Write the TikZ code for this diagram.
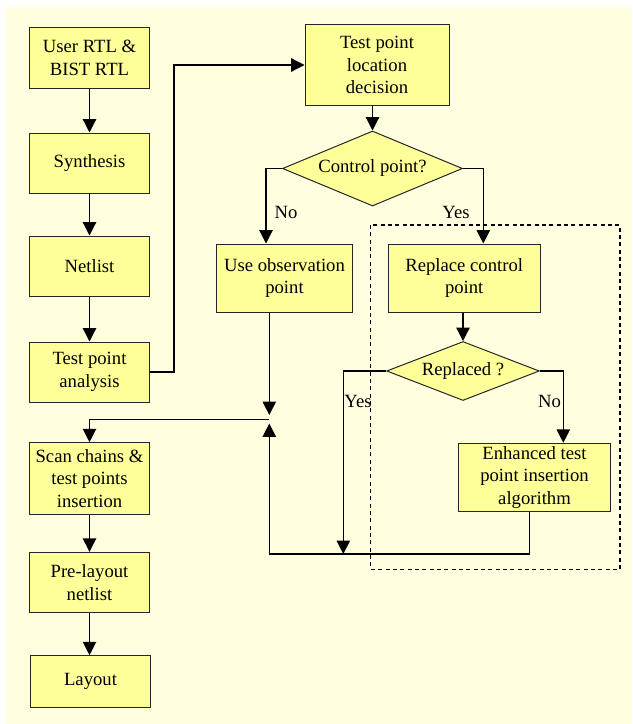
\documentclass[tikz,border=0pt]{standalone}
\usepackage{fontspec}
\setmainfont{Liberation Serif}
\newfontfamily\flowfont{Liberation Serif}
\usetikzlibrary{shapes.geometric,arrows.meta}
\definecolor{pagebg}{RGB}{255,255,224}
\definecolor{boxfill}{RGB}{255,255,153}
\tikzset{every picture/.style={line width=0.9pt}}
\tikzset{
  blk/.style={draw=black!85, line width=0.75pt, fill=boxfill, align=center, inner sep=0.75pt, font=\flowfont\fontsize{14}{17}\selectfont},
  dec/.style={blk, diamond, aspect=2.4, inner sep=0pt},
  arr/.style={-{Triangle[length=10pt,width=10pt]}},
  lbl/.style={inner sep=0.75pt, font=\flowfont\fontsize{14}{17}\selectfont}
}

\begin{document}
\begin{tikzpicture}[x=0.75pt,y=0.75pt,yscale=-1]
    \useasboundingbox (0,0) rectangle (632,724);
    \fill[pagebg] (6,7) rectangle (632,724);
    \draw[dash pattern=on 3pt off 2.5pt] (370.7,225) rectangle (620,569.3);

    \node[blk, minimum width=90pt, minimum height=45pt] (rtl) at (89.5,58) {User RTL \&\\BIST RTL};
    \node[blk, minimum width=90pt, minimum height=45pt] (synth) at (89.5,163) {Synthesis};
    \node[blk, minimum width=90pt, minimum height=45pt] (net) at (89.5,266) {Netlist};
    \node[blk, minimum width=90pt, minimum height=45pt] (tpa) at (89.5,372) {Test point\\analysis};
    \node[blk, minimum width=90pt, minimum height=53.7pt] (scan) at (89.5,478.5) {Scan chains \&\\test points\\insertion};
    \node[blk, minimum width=90pt, minimum height=45pt] (pre) at (89.5,582.3) {Pre-layout\\netlist};
    \node[blk, minimum width=90pt, minimum height=39pt] (layout) at (90.5,681.7) {Layout};

    \node[blk, minimum width=108pt, minimum height=60pt] (tpld) at (377,65) {Test point\\location\\decision};
    \node[dec, minimum width=135pt, minimum height=56.25pt] (ctrl) at (372.5,168.5) {Control point?};
    \node[blk, minimum width=101.7pt, minimum height=51pt] (obs) at (284.5,278) {Use observation\\point};
    \node[blk, minimum width=113.8pt, minimum height=51pt] (rep) at (464.2,278) {Replace control\\point};
    \node[dec, minimum width=114.5pt, minimum height=44.25pt] (repd) at (463,371) {Replaced ?};
    \node[blk, minimum width=114.3pt, minimum height=51.3pt] (enh) at (534.5,477.5) {Enhanced test\\point insertion\\algorithm};

    \node[lbl] (no1) at (286,212) {No};
    \node[lbl] (yes1) at (456,212) {Yes};
    \node[lbl] (yes2) at (358,401) {Yes};
    \node[lbl] (no2) at (549.5,401) {No};

    \coordinate (up1) at (174,65);
    \coordinate (noturn) at (266,168.5);
    \coordinate (yesturn) at (483.3,168.5);
    \coordinate (join) at (269.3,419.3);
    \coordinate (joinup) at (269.3,415);
    \coordinate (joindn) at (269.3,423.5);
    \coordinate (noturn2) at (563.3,371);
    \coordinate (yesturn2) at (343.3,371);
    \coordinate (yesend) at (343.3,554);
    \coordinate (enhout) at (529.3,554);
    \coordinate (backturn) at (269.3,554);

    \draw[arr] (rtl) -- (synth);
    \draw[arr] (synth) -- (net);
    \draw[arr] (net) -- (tpa);
    \draw[arr] (tpa.east) -| (up1) -- (tpld.west);
    \draw[arr] (ctrl.north |- tpld.south) -- (ctrl.north);
    \draw[arr] (ctrl.west) -- (noturn) -- (noturn |- obs.north);
    \draw[arr] (ctrl.east) -- (yesturn) -- (yesturn |- rep.north);
    \draw[arr] (repd.north |- rep.south) -- (repd.north);
    \draw[arr] (repd.east) -- (noturn2) -- (noturn2 |- enh.north);
    \draw[arr] (repd.west) -- (yesturn2) -- (yesend);
    \draw[arr] (enhout |- enh.south) -- (enhout) -- (backturn) -- (joindn);
    \draw[arr] (joinup |- obs.south) -- (joinup);
    \draw[arr] (join) -| (scan.north);
    \draw[arr] (scan) -- (pre);
    \draw[arr] (pre.south) -- (pre.south |- layout.north);
\end{tikzpicture}
\end{document}
